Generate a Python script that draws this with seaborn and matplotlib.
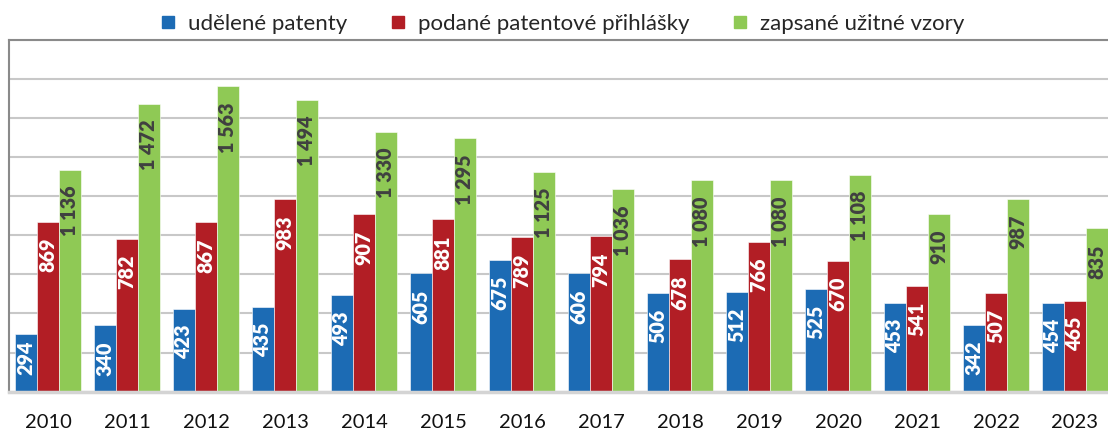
import pandas as pd
import matplotlib.pyplot as plt
import seaborn as sns
from matplotlib.lines import Line2D

# data
years = [str(y) for y in range(2010, 2024)]
udelene_patenty = [294, 340, 423, 435, 493, 605, 675, 606, 506, 512, 525, 453, 342, 454]
podane_prihlasky = [869, 782, 867, 983, 907, 881, 789, 794, 678, 766, 670, 541, 507, 465]
uzitne_vzory = [1136, 1472, 1563, 1494, 1330, 1295, 1125, 1036, 1080, 1080, 1108, 910, 987, 835]
series = ["udělené patenty", "podané patentové přihlášky", "zapsané užitné vzory"]
colors = ["#1c6bb4", "#b21e25", "#8fc955"]
label_colors = ["white", "white", "#404040"]

df = pd.DataFrame({
    "rok": years * 3,
    "pocet": udelene_patenty + podane_prihlasky + uzitne_vzory,
    "typ": [series[0]] * 14 + [series[1]] * 14 + [series[2]] * 14,
})

sns.set_style("white")
plt.rcParams['font.family'] = ['Lato', 'DejaVu Sans']

fig = plt.figure(figsize=(11.08, 4.33), dpi=100)
ax = fig.add_axes([8.5 / 1108, 41.3 / 433, 1106 / 1108, 352 / 433])

sns.barplot(data=df, x="rok", y="pocet", hue="typ", palette=colors,
            width=0.835, gap=0, saturation=1, edgecolor="white", linewidth=0.4,
            legend=False, ax=ax)

ax.set_ylim(0, 1800)
ax.set_xlim(-0.5, 13.5)
ax.set_yticks(range(0, 1801, 200))
ax.set_yticklabels([])
ax.tick_params(axis="y", length=0)
ax.tick_params(axis="x", length=0, labelsize=14.5, pad=16, colors="#111111")
ax.grid(axis="y", color="#c8c8c8", linewidth=1.5)
ax.set_axisbelow(True)
ax.set_xlabel("")
ax.set_ylabel("")
for side in ["top", "left"]:
    ax.spines[side].set_color("#8a8a8a")
    ax.spines[side].set_linewidth(1.5)
ax.spines["right"].set_visible(False)
ax.spines["bottom"].set_color("#d4d4d4")
ax.spines["bottom"].set_linewidth(2.5)

# value labels inside the bars, rotated
for cont, col in zip(ax.containers, label_colors):
    for bar in cont:
        v = bar.get_height()
        x = bar.get_x() + bar.get_width() / 2
        txt = f"{int(v):,}".replace(",", " ")
        if v < 333:
            ax.annotate(txt, (x, 0), xytext=(0, 12.2), textcoords="offset points",
                        rotation=90, ha="center", va="bottom", color=col,
                        fontsize=14.2, fontweight="heavy")
        else:
            ax.annotate(txt, (x, v), xytext=(0, -11.5), textcoords="offset points",
                        rotation=90, ha="center", va="top", color=col,
                        fontsize=14.2, fontweight="heavy")

handles = [Line2D([], [], marker="s", linestyle="", markersize=9, color=c) for c in colors]
fig.legend(handles, series, loc="center", bbox_to_anchor=(0.507, 1 - 23.5 / 433), ncol=3,
           frameon=False, fontsize=16, handlelength=0.8, handletextpad=0.5,
           columnspacing=1.9, borderpad=0)

fig.savefig("out.png", dpi=100)
